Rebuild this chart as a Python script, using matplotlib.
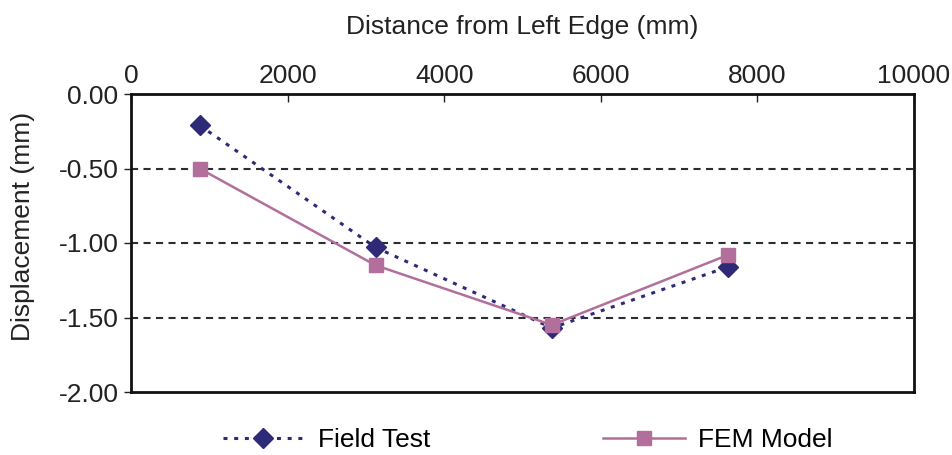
import matplotlib
matplotlib.use("Agg")
import matplotlib.pyplot as plt
from matplotlib.ticker import FixedLocator

plt.rcParams['font.family'] = ['Liberation Sans', 'DejaVu Sans']

# Data
distance = [875, 3125, 5375, 7625]
field_test = [-0.21, -1.03, -1.57, -1.16]
fem_model = [-0.50, -1.15, -1.55, -1.08]
x_ticks = [0, 2000, 4000, 6000, 8000, 10000]
y_ticks = [0.00, -0.50, -1.00, -1.50, -2.00]

fig = plt.figure(figsize=(9.52, 4.55), dpi=100)
ax = fig.add_axes([131/952, 1 - 392/455, (914 - 131)/952, (392 - 94)/455])

navy = '#2E2A78'
mauve = '#B36F9C'

ax.plot(distance, field_test, color=navy, linestyle=(0, (1.3, 2.2)), linewidth=2.2,
        marker='D', markersize=10, markerfacecolor=navy, markeredgecolor=navy,
        label='Field Test', zorder=3)
ax.plot(distance, fem_model, color=mauve, linestyle='-', linewidth=1.8,
        marker='s', markersize=10, markerfacecolor=mauve, markeredgecolor=mauve,
        label='FEM Model', zorder=4)

ax.set_xlim(0, 10000)
ax.set_ylim(-2.0, 0.0)
ax.xaxis.set_major_locator(FixedLocator(x_ticks))
ax.yaxis.set_major_locator(FixedLocator(y_ticks))
ax.set_yticklabels([f'{v:.2f}' for v in y_ticks])
ax.set_xticklabels([str(v) for v in x_ticks])

ax.xaxis.tick_top()
ax.xaxis.set_label_position('top')
ax.tick_params(axis='x', direction='in', length=6, width=1, pad=4, labelsize=19,
               colors='#222222', labelcolor='#222222')
ax.tick_params(axis='y', direction='out', length=5, width=1, pad=4, labelsize=19,
               colors='#222222', labelcolor='#222222')

for y in [-0.5, -1.0, -1.5]:
    ax.axhline(y, color='#2a2e33', linestyle=(0, (3.4, 2.6)), linewidth=1.5, zorder=1)

for s in ax.spines.values():
    s.set_linewidth(2)
    s.set_color('#111111')

ax.set_xlabel('Distance from Left Edge (mm)', fontsize=19, labelpad=22, color='#222222')
ax.set_ylabel('Displacement (mm)', fontsize=19, color='#222222')
ax.yaxis.set_label_coords(-0.1226, 0.554)

fig.legend(loc='lower center', bbox_to_anchor=(0.554, -0.046), ncol=2, frameon=False,
           fontsize=19, handlelength=3.1, columnspacing=6.55, handletextpad=0.5)

fig.savefig('out.png', dpi=100, facecolor='white')
